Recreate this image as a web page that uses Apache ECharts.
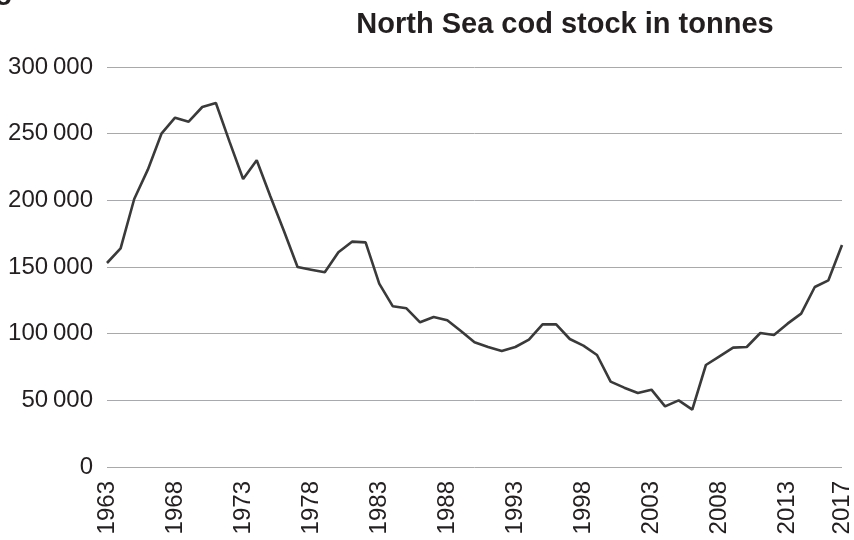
<!DOCTYPE html>
<html>
<head>
<meta charset="utf-8">
<script src="https://cdn.jsdelivr.net/npm/echarts@6/dist/echarts.min.js"></script>
<style>
  html,body{margin:0;padding:0;background:#fff;}
  #chart{width:854px;height:540px;}
</style>
</head>
<body>
<div id="chart"></div>
<script>
var years=[];
for (var y=1963; y<=2017; y++) { years.push(String(y)); }

var codStock=[153000,164000,201000,223000,250000,262000,259000,270000,273000,244000,
  216000,230000,203000,177000,150000,148000,146000,161000,169000,168500,
  137500,120500,119000,108500,112500,110000,102000,93500,90000,87000,
  90000,95500,107000,107000,96000,91000,84000,64000,59500,55500,
  58000,45500,50000,43000,76500,83000,89500,90000,100500,99000,
  107500,115000,135000,140000,166500];

var shownYears=['1963','1968','1973','1978','1983','1988','1993','1998','2003','2008','2013','2017'];

var chart=echarts.init(document.getElementById('chart'));

var option={
  animation:false,
  title:{
    text:'North Sea cod stock in tonnes',
    left:560,
    textAlign:'center',
    top:5,
    textStyle:{
      fontFamily:'Liberation Sans',
      fontWeight:'bold',
      fontSize:29,
      color:'#231f20'
    }
  },
  graphic:[{
    type:'text',
    left:-5,
    top:-24,
    style:{text:'g',font:'bold 29px "Liberation Sans"',fill:'#231f20'}
  }],
  grid:{left:107,right:11,top:67,bottom:73},
  xAxis:{
    type:'category',
    boundaryGap:false,
    data:years,
    axisLine:{show:false},
    axisTick:{show:false},
    axisLabel:{
      rotate:90,
      margin:14,
      fontFamily:'Liberation Sans',
      fontSize:24,
      color:'#231f20',
      interval:function(index,value){ return shownYears.indexOf(value)>=0; }
    }
  },
  yAxis:{
    type:'value',
    min:0,
    max:300000,
    interval:50000,
    axisLine:{show:false},
    axisTick:{show:false},
    splitLine:{lineStyle:{color:'#a7a9ac',width:1}},
    axisLabel:{
      margin:14,
      fontFamily:'Liberation Sans',
      fontSize:24,
      color:'#231f20',
      formatter:function(v){
        if (v===0) return '0';
        var s=String(v);
        return s.slice(0,s.length-3)+'\u2009'+s.slice(s.length-3);
      }
    }
  },
  series:[{
    name:'Cod stock',
    type:'line',
    data:codStock,
    symbol:'none',
    lineStyle:{color:'#3a3a3a',width:2.6},
    itemStyle:{color:'#3a3a3a'}
  }]
};
chart.setOption(option);
</script>
</body>
</html>
